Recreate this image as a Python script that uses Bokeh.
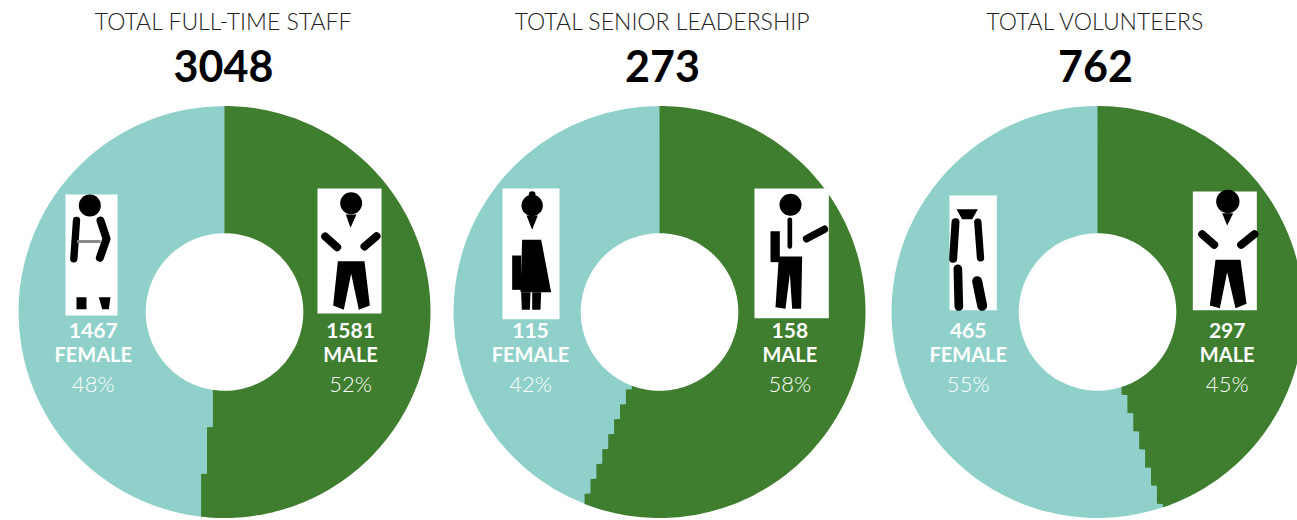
import numpy as np
from bokeh.core.properties import value
from bokeh.embed import file_html
from bokeh.models import ColumnDataSource, Range1d
from bokeh.plotting import figure
from bokeh.resources import INLINE

# ---- chart values ----
titles = ["TOTAL FULL-TIME STAFF", "TOTAL SENIOR LEADERSHIP", "TOTAL VOLUNTEERS"]
totals = [3048, 273, 762]
female_counts = [1467, 115, 465]
male_counts = [1581, 158, 297]
female_pct = [48, 42, 55]
male_pct = [52, 58, 45]
drawn_male_share = [0.52, 0.56, 0.45]   # the size of the green slice as it is drawn

# ---- layout ----
W, H = 1297, 520
centers_x = [224, 659, 1097]
CY = H - 311.5
R_OUT, R_IN = 206, 78.8
STEP = 5.9
title_x = [223, 662, 1095]
female_x = [92.7, 530, 967.7]
male_x = [350, 789.3, 1226.7]
GREEN, TEAL = "#3f7d2f", "#8fd1ca"
FONT = "Lato"
LIGHT = "Lato Light"


def Y(page_y):
    return H - page_y


p = figure(width=W, height=H, x_range=Range1d(0, W), y_range=Range1d(0, H),
           output_backend="svg", toolbar_location=None, min_border=0, outline_line_color=None,
           background_fill_color="white", border_fill_color="white")
p.axis.visible = False
p.grid.visible = False


def male_slice(cx, share):
    """Outline of the green slice, with the stepped edge of the reference."""
    theta = 2 * np.pi * share
    slope = -np.tan(theta - np.pi)
    pts = []
    for yd in np.arange(R_OUT, 0, -0.25):
        x = STEP * np.round((cx + slope * yd) / STEP)
        r = np.hypot(x - cx, yd)
        if R_IN <= r <= R_OUT:
            pts.append((x, CY - yd))
    dx0, dy0 = pts[0][0] - cx, pts[0][1] - CY
    dx1, dy1 = pts[-1][0] - cx, pts[-1][1] - CY
    phi0 = np.arctan2(dx0, dy0) % (2 * np.pi)
    phi1 = np.arctan2(dx1, dy1) % (2 * np.pi)
    outer = np.linspace(0, phi0, 160)
    inner = np.linspace(phi1, 0, 80)
    xs = list(cx + R_OUT * np.sin(outer)) + [a for a, _ in pts] + list(cx + R_IN * np.sin(inner))
    ys = list(CY + R_OUT * np.cos(outer)) + [b for _, b in pts] + list(CY + R_IN * np.cos(inner))
    return xs, ys


# Female slices run slightly under the male slices, so no seam shows.
margin = np.radians(6)
p.annular_wedge(
    x=centers_x, y=[CY] * 3, inner_radius=R_IN, outer_radius=R_OUT,
    start_angle=[np.pi / 2 - 2 * np.pi - 0.01] * 3,
    end_angle=[np.pi / 2 - 2 * np.pi * s + margin for s in drawn_male_share],
    fill_color=TEAL, line_color=None)

outlines = [male_slice(c, s) for c, s in zip(centers_x, drawn_male_share)]
p.patches(xs=[o[0] for o in outlines], ys=[o[1] for o in outlines],
          fill_color=GREEN, line_color=None)


# ---- pictograms: drawn in the coordinates of a 3x crop whose corner is (ox, 170) ----
def zx(ox, z):
    return ox + z / 3


def zy(z):
    return Y(170 + z / 3)


icons = [
    dict(ox=0, box=(195, 72, 351, 435), heads=[(268, 105, 33)],
         polys=[[(228, 380), (258, 380), (258, 416), (228, 416)],
                [(295, 380), (330, 380), (325, 416), (305, 416)]],
         lines=[([(228, 150), (220, 265)], 22), ([(300, 150), (318, 205), (298, 262)], 24)],
         grey=[(230, 213), (300, 213)]),
    dict(ox=0, box=(951, 54, 1143, 429), heads=[(1052, 98, 33)],
         polys=[[(1036, 132), (1068, 132), (1050, 172)],
                [(1012, 272), (1092, 272), (1108, 405), (1075, 418), (1052, 310), (1030, 418), (998, 405)]],
         lines=[([(974, 198), (1010, 230)], 24), ([(1128, 197), (1092, 228)], 24)]),
    dict(ox=450, box=(156, 54, 327, 446), heads=[(245, 105, 32), (245, 72, 10)],
         polys=[[(228, 135), (262, 135), (245, 178)],
                [(215, 208), (272, 208), (302, 365), (210, 365)],
                [(185, 255), (212, 255), (212, 358), (185, 358)],
                [(212, 365), (240, 365), (238, 418), (214, 418)],
                [(245, 365), (272, 365), (270, 418), (245, 418)]],
         lines=[]),
    dict(ox=450, box=(912, 54, 1135, 443), heads=[(1020, 103, 33)],
         polys=[[(960, 182), (988, 182), (988, 275), (960, 275)],
                [(985, 258), (1055, 258), (1052, 415), (1025, 415), (1018, 310), (1005, 415), (975, 410)]],
         lines=[([(1018, 148), (1018, 228)], 14), ([(1068, 205), (1122, 176)], 22)]),
    dict(ox=880, box=(207, 75, 349, 419), heads=[],
         polys=[[(228, 116), (292, 116), (275, 146), (245, 146)]],
         lines=[([(225, 155), (218, 265)], 24), ([(292, 155), (300, 262)], 22),
                ([(232, 295), (235, 408)], 26), ([(290, 332), (305, 406)], 30)]),
    dict(ox=880, box=(937, 63, 1129, 419), heads=[(1042, 93, 35)],
         polys=[[(1025, 128), (1058, 128), (1040, 165)],
                [(1005, 268), (1080, 268), (1098, 400), (1065, 413), (1040, 305), (1018, 413), (988, 405)]],
         lines=[([(965, 191), (1001, 223)], 24), ([(1122, 191), (1082, 223)], 24)]),
]

for ic in icons:
    ox = ic["ox"]
    x0, y0, x1, y1 = ic["box"]
    p.quad(left=[zx(ox, x0)], right=[zx(ox, x1)], top=[zy(y0)], bottom=[zy(y1)],
           fill_color="white", line_color=None)
    for hx, hy, hr in ic["heads"]:
        p.circle(x=[zx(ox, hx)], y=[zy(hy)], radius=hr / 3, fill_color="black", line_color=None)
    if ic["polys"]:
        p.patches(xs=[[zx(ox, a) for a, _ in poly] for poly in ic["polys"]],
                  ys=[[zy(b) for _, b in poly] for poly in ic["polys"]],
                  fill_color="black", line_color=None)
    for line, width in ic["lines"]:
        p.line(x=[zx(ox, a) for a, _ in line], y=[zy(b) for _, b in line],
               line_color="black", line_width=width / 3, line_cap="round", line_join="round")
    if "grey" in ic:
        p.line(x=[zx(ox, a) for a, _ in ic["grey"]], y=[zy(b) for _, b in ic["grey"]],
               line_color="#8a8a8a", line_width=3)


# ---- texts ----
def texts(xs, page_y, labels, size, color, style="normal", font=FONT):
    src = ColumnDataSource(dict(x=xs, y=[Y(page_y)] * len(xs), t=labels))
    p.text(x="x", y="y", text="t", source=src, text_align="center", text_baseline="middle",
           text_font=value(font), text_font_size=size, text_color=color, text_font_style=style)


texts(title_x, 20.5, titles, "23px", "#222222", font=LIGHT)
texts(title_x, 65.5, [str(t) for t in totals], "43px", "#000000", "bold")

texts(female_x, 330, [str(v) for v in female_counts], "21px", "white", "bold")
texts(male_x, 330, [str(v) for v in male_counts], "21px", "white", "bold")
texts(female_x, 353.5, ["FEMALE"] * 3, "20px", "white", "bold")
texts(male_x, 353.5, ["MALE"] * 3, "20px", "white", "bold")
texts(female_x, 382.5, [f"{v}%" for v in female_pct], "22px", "white", font=LIGHT)
texts(male_x, 382.5, [f"{v}%" for v in male_pct], "22px", "white", font=LIGHT)

open("out.html", "w").write(file_html(p, INLINE))
